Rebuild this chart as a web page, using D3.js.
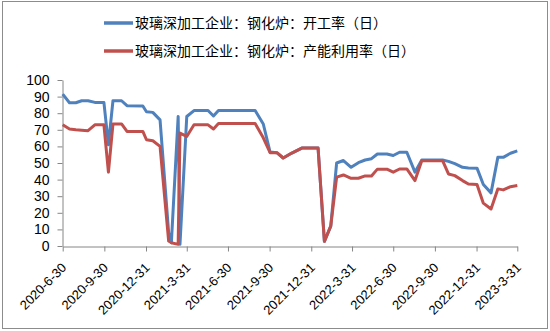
<!DOCTYPE html>
<html>
<head>
<meta charset="utf-8">
<script src="https://cdn.jsdelivr.net/npm/d3@7"></script>
<style>
  html, body { margin: 0; padding: 0; background: #fff; }
  svg { display: block; }
</style>
</head>
<body>
<svg id="chart" width="550" height="331"></svg>
<script>
// Observation dates (vertices of the weekly series)
const dates = [
  "2020-06-30","2020-07-15","2020-07-29","2020-08-11","2020-08-25","2020-09-09",
  "2020-09-29","2020-10-09","2020-10-19","2020-11-07","2020-11-19","2020-12-24",
  "2021-01-01","2021-01-15","2021-01-31","2021-02-19","2021-02-25","2021-03-12",
  "2021-03-16","2021-03-31","2021-04-16","2021-05-17","2021-05-29","2021-06-09",
  "2021-08-29","2021-09-16","2021-10-01","2021-10-16","2021-10-30","2021-11-18",
  "2021-12-10","2022-01-15","2022-01-29","2022-02-12","2022-02-25","2022-03-12",
  "2022-03-29","2022-04-14","2022-04-29","2022-05-13","2022-05-26","2022-06-16",
  "2022-06-30","2022-07-14","2022-07-30","2022-08-17","2022-09-01","2022-10-17",
  "2022-10-30","2022-11-13","2022-11-30","2022-12-13","2023-01-01","2023-01-15",
  "2023-02-01","2023-02-16","2023-02-28","2023-03-16","2023-03-31"
];

// 开工率（日）
const operatingRate = [
  91.5, 86.3, 86.3, 87.5, 87.5, 86.5,
  86.5, 61.0, 87.5, 87.5, 84.5, 84.3,
  80.9, 80.5, 76.0, 8.0, 2.0, 78.0,
  1.0, 78.0, 81.6, 81.6, 78.3, 81.6,
  81.6, 73.5, 56.6, 56.2, 53.0, 56.0,
  59.0, 59.0, 2.8, 12.0, 50.0, 51.5,
  47.4, 50.2, 51.8, 52.6, 55.4, 55.4,
  54.5, 56.5, 56.5, 44.5, 51.8, 51.8,
  51.0, 49.6, 47.4, 47.0, 46.9, 37.0,
  32.0, 53.4, 53.4, 55.9, 57.3
];

// 产能利用率（日）
const capacityUtilization = [
  73.0, 70.5, 70.0, 69.8, 69.5, 73.0,
  73.0, 44.5, 73.5, 73.5, 69.0, 69.0,
  64.0, 63.4, 60.0, 3.0, 2.0, 1.0,
  68.0, 66.0, 73.0, 73.0, 70.5, 73.8,
  73.8, 65.2, 56.2, 56.2, 53.0, 56.0,
  59.0, 59.0, 2.8, 12.0, 41.5, 42.8,
  40.8, 40.8, 42.2, 42.2, 46.3, 46.3,
  44.5, 46.4, 46.4, 39.4, 51.4, 51.4,
  43.4, 42.4, 39.4, 37.3, 37.0, 25.8,
  22.3, 34.4, 33.8, 35.7, 36.5
];

const seriesNames = [
  "玻璃深加工企业：钢化炉：开工率（日）",
  "玻璃深加工企业：钢化炉：产能利用率（日）"
];
const seriesColors = ["#4F81BD", "#C0504D"];

const yTicks = [0, 10, 20, 30, 40, 50, 60, 70, 80, 90, 100];
const xTickDates = [
  "2020-06-30","2020-09-30","2020-12-31","2021-03-31","2021-06-30","2021-09-30",
  "2021-12-31","2022-03-31","2022-06-30","2022-09-30","2022-12-31","2023-03-31"
];
const xTickLabels = [
  "2020-6-30","2020-9-30","2020-12-31","2021-3-31","2021-6-30","2021-9-30",
  "2021-12-31","2022-3-31","2022-6-30","2022-9-30","2022-12-31","2023-3-31"
];

const parse = d3.utcParse("%Y-%m-%d");
const dateValues = dates.map(parse);
const tickValues = xTickDates.map(parse);

const svg = d3.select("#chart");
const axisColor = "#868686";

// outer frame
svg.append("rect")
  .attr("x", 2.5).attr("y", 1.5)
  .attr("width", 545).attr("height", 327)
  .attr("fill", "#fff")
  .attr("stroke", "#8c8c8c")
  .attr("stroke-width", 1);

const x = d3.scaleUtc()
  .domain([tickValues[0], tickValues[tickValues.length - 1]])
  .range([62.7, 517.3]);

const y = d3.scaleLinear()
  .domain([0, 100])
  .range([246, 80]);

// y axis
const yAxis = svg.append("g")
  .attr("transform", "translate(62.5,0)")
  .call(d3.axisLeft(y).tickValues(yTicks).tickSize(5).tickSizeOuter(0).tickPadding(8));
yAxis.select(".domain").attr("stroke", axisColor);
yAxis.selectAll(".tick line").attr("stroke", axisColor);
yAxis.selectAll(".tick text")
  .attr("fill", "#000")
  .style("font-family", "'Liberation Sans', Arial, sans-serif")
  .style("font-size", "14px");

// x axis
const xAxis = svg.append("g")
  .attr("transform", "translate(0,246.5)")
  .call(d3.axisBottom(x).tickValues(tickValues).tickSize(5).tickSizeOuter(0)
    .tickFormat((d, i) => xTickLabels[i]));
xAxis.select(".domain").attr("stroke", axisColor);
xAxis.selectAll(".tick line").attr("stroke", axisColor);
xAxis.selectAll(".tick text")
  .attr("fill", "#000")
  .attr("text-anchor", "end")
  .attr("dy", null)
  .attr("y", null)
  .attr("transform", "translate(4,22) rotate(-45)")
  .style("font-family", "'Liberation Sans', Arial, sans-serif")
  .style("font-size", "13px");

// series lines
const line = d3.line()
  .x((d, i) => x(dateValues[i]))
  .y(d => y(d));

[operatingRate, capacityUtilization].forEach((vals, k) => {
  svg.append("path")
    .datum(vals)
    .attr("fill", "none")
    .attr("stroke", seriesColors[k])
    .attr("stroke-width", 3)
    .attr("stroke-linejoin", "round")
    .attr("d", line);
});

// legend
const legend = svg.append("g");
seriesNames.forEach((name, k) => {
  const ly = 23 + k * 28;
  legend.append("line")
    .attr("x1", 104).attr("x2", 133)
    .attr("y1", ly).attr("y2", ly)
    .attr("stroke", seriesColors[k])
    .attr("stroke-width", 3.5);
  legend.append("text")
    .attr("x", 135).attr("y", ly)
    .attr("dy", "0.36em")
    .style("font-family", "'Noto Sans CJK SC', sans-serif")
    .style("font-size", "14px")
    .attr("fill", "#000")
    .text(name);
});
</script>
</body>
</html>
